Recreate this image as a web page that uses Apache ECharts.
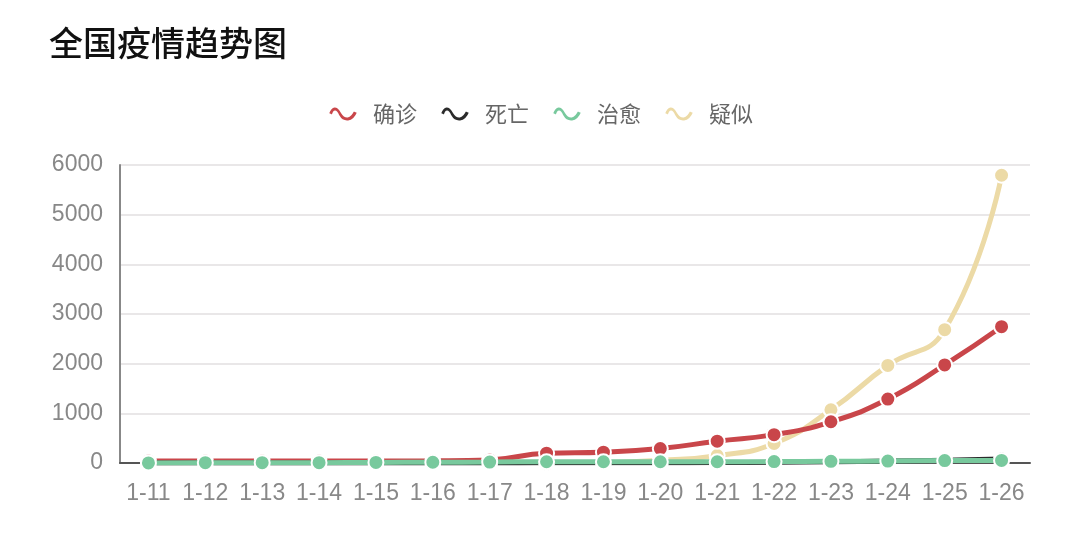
<!DOCTYPE html>
<html>
<head>
<meta charset="utf-8">
<script src="https://cdn.jsdelivr.net/npm/echarts@6/dist/echarts.min.js"></script>
<style>
  html, body { margin: 0; padding: 0; background: #fff; }
  #main { width: 1080px; height: 550px; }
</style>
</head>
<body>
<div id="main"></div>
<script>
// 日期
var dates = ['1-11', '1-12', '1-13', '1-14', '1-15', '1-16', '1-17', '1-18',
             '1-19', '1-20', '1-21', '1-22', '1-23', '1-24', '1-25', '1-26'];
// 确诊
var confirmed = [41, 41, 41, 41, 41, 45, 62, 198, 218, 291, 440, 571, 830, 1287, 1975, 2744];
// 死亡
var deaths = [1, 1, 1, 1, 2, 2, 2, 3, 4, 6, 9, 17, 25, 41, 56, 80];
// 治愈
var cured = [2, 6, 7, 7, 12, 15, 19, 25, 25, 25, 25, 28, 34, 38, 49, 51];
// 疑似 (1-19 之前无数据)
var suspected = ['-', '-', '-', '-', '-', '-', '-', '-', 0, 54, 149, 393, 1072, 1965, 2684, 5794];
// y 轴刻度
var yTicks = [0, 1000, 2000, 3000, 4000, 5000, 6000];

var names = ['确诊', '死亡', '治愈', '疑似'];
var colors = ['#c9464a', '#2b2b2b', '#78c99d', '#ecdaa6'];

// 波浪形图例
var waveIcon = 'path://M0,10 C3,2 8,2 12,9 C15,14 19,14 22,7 L26,9 C22,19 13,19 9,12 C7,7 5,7 4,12 Z';

var myChart = echarts.init(document.getElementById('main'));

function lineSeries(name, data, color, z) {
    return {
        name: name,
        type: 'line',
        data: data,
        smooth: true,
        z: z,
        symbol: 'circle',
        symbolSize: 15,
        lineStyle: { width: 5, color: color },
        itemStyle: { color: color, borderColor: '#fff', borderWidth: 2 }
    };
}

var option = {
    backgroundColor: '#fff',
    animation: false,
    color: colors,
    title: {
        text: '全国疫情趋势图',
        left: 44,
        top: 21,
        textStyle: {
            fontFamily: 'Noto Sans CJK SC',
            fontSize: 34,
            fontWeight: 500,
            color: '#111'
        }
    },
    legend: {
        data: names,
        left: 'center',
        top: 98,
        itemWidth: 30,
        itemHeight: 18,
        itemGap: 22,
        icon: waveIcon,
        textStyle: {
            fontFamily: 'Noto Sans CJK SC',
            fontSize: 22,
            color: '#666',
            padding: [0, 0, 0, 10]
        }
    },
    grid: {
        left: 120,
        right: 50,
        top: 165,
        bottom: 87
    },
    xAxis: {
        type: 'category',
        data: dates,
        boundaryGap: true,
        axisLine: { show: true, lineStyle: { color: '#555', width: 2 } },
        axisTick: { show: false },
        axisLabel: {
            margin: 19,
            fontFamily: 'Liberation Sans',
            fontSize: 23,
            color: '#888',
            interval: 0
        }
    },
    yAxis: {
        type: 'value',
        min: yTicks[0],
        max: yTicks[yTicks.length - 1],
        interval: 1000,
        axisLine: { show: true, lineStyle: { color: '#888', width: 2 } },
        axisTick: { show: false },
        axisLabel: {
            margin: 17,
            fontFamily: 'Liberation Sans',
            fontSize: 23,
            color: '#888',
            formatter: function (v) { return String(v); }
        },
        splitLine: { lineStyle: { color: '#e2dfe0', width: 1.5 } }
    },
    series: [
        lineSeries('疑似', suspected, colors[3], 2),
        lineSeries('确诊', confirmed, colors[0], 3),
        lineSeries('死亡', deaths, colors[1], 4),
        lineSeries('治愈', cured, colors[2], 5)
    ]
};

myChart.setOption(option);
</script>
</body>
</html>
